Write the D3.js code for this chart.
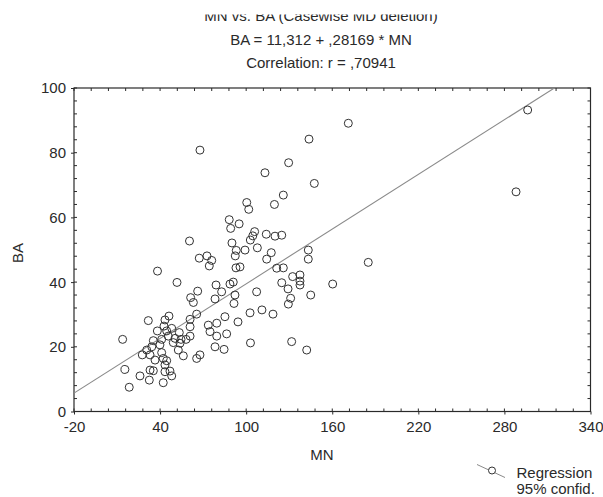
<!DOCTYPE html>
<html>
<head>
<meta charset="utf-8">
<script src="https://cdn.jsdelivr.net/npm/d3@7"></script>
<style>
  html, body { margin: 0; padding: 0; background: #fff; }
  svg { display: block; font-family: "Liberation Sans", Arial, sans-serif; }
</style>
</head>
<body>
<svg id="chart" width="603" height="497"></svg>
<script>
// ---- data ----
const MN = [67.8,171.2,143.8,296.2,288.1,185.1,129.6,113.1,147.5,125.9,119.7,100.4,101.8,88.2,89.2,95.1,60.5,105.9,104.6,102.9,114.0,120.1,124.8,90.1,93.1,99.2,107.8,117.5,114.3,92.4,67.3,72.7,76.0,74.3,92.9,95.7,121.3,125.9,143.3,143.3,38.2,51.8,79.0,82.9,88.7,91.0,66.2,61.3,63.2,78.3,92.2,107.3,124.8,129.2,91.5,132.4,137.5,137.5,137.5,160.3,145.0,131.0,129.4,131.7,142.2,103.0,118.7,111.0,102.7,94.3,
  31.8,46.2,43.4,65.5,60.9,60.9,73.6,79.5,85.2,74.8,79.5,86.4,78.3,84.6,13.9,42.7,38.1,44.6,48.1,53.4,45.7,50.4,41.1,35.3,54.6,60.9,58.1,53.9,49.2,39.9,34.2,30.7,27.6,33.0,41.1,52.7,56.2,67.8,65.5,36.5,42.2,44.6,43.4,15.5,33.0,35.3,43.4,46.9,48.1,26.0,32.5,42.2,18.5];
const BA = [80.8,89.1,84.2,93.2,67.9,46.1,76.9,73.8,70.5,66.9,64.0,64.6,62.5,59.3,56.6,58.0,52.7,55.6,54.3,53.0,54.8,54.2,54.5,52.1,49.8,49.9,50.6,49.1,47.1,48.1,47.4,48.1,46.7,45.0,44.4,44.7,44.3,44.4,49.9,47.1,43.4,39.9,39.1,37.0,39.4,40.0,37.2,35.2,33.7,34.8,36.0,37.0,39.8,37.9,33.4,41.7,42.2,40.3,39.1,39.4,36.0,35.0,33.2,21.6,19.0,21.2,30.1,31.4,30.5,27.7,
  28.1,29.5,28.3,30.1,28.5,26.2,26.7,27.3,29.3,24.7,23.3,24.0,20.0,19.2,22.3,26.4,24.9,24.9,25.7,24.4,23.3,22.6,22.3,21.9,22.3,23.3,22.3,21.1,21.3,20.6,20.0,19.0,17.5,17.5,18.2,19.0,17.2,17.5,16.4,15.9,16.4,15.7,14.4,13.0,12.8,12.6,12.3,12.5,11.0,11.0,9.7,8.9,7.5];
const intercept = 11.312, slope = 0.28169;
const xTicks = [-20, 40, 100, 160, 220, 280, 340];
const yTicks = [0, 20, 40, 60, 80, 100];
const titleLines = ["MN vs. BA (Casewise MD deletion)", "BA = 11,312 + ,28169 * MN", "Correlation: r = ,70941"];
const legendLabels = ["Regression", "95% confid."];

// ---- drawing ----
const svg = d3.select("#chart");
const x = d3.scaleLinear().domain([-20, 340]).range([74, 590.5]);
const y = d3.scaleLinear().domain([0, 100]).range([411.5, 88]);
const ink = "#2a2a2a";

// titles
const tcx = 321;
svg.append("text").attr("x", tcx).attr("y", 20.5).attr("text-anchor", "middle")
  .attr("font-size", 15).attr("fill", ink).text(titleLines[0]);
svg.append("rect").attr("x", 0).attr("y", 0).attr("width", 603).attr("height", 14.5).attr("fill", "#fff");
svg.append("text").attr("x", tcx).attr("y", 44.5).attr("text-anchor", "middle")
  .attr("font-size", 15).attr("fill", ink).text(titleLines[1]);
svg.append("text").attr("x", tcx).attr("y", 67.5).attr("text-anchor", "middle")
  .attr("font-size", 15).attr("fill", ink).text(titleLines[2]);

// clip
svg.append("clipPath").attr("id", "plotclip").append("rect")
  .attr("x", 74).attr("y", 88).attr("width", 590.5 - 74).attr("height", 411.5 - 88);

// minor ticks (inside)
const minorX = d3.range(-20, 340.01, 12);
const minorY = d3.range(0, 100.01, 4);
const tg = svg.append("g").attr("stroke", ink).attr("stroke-width", 1);
minorX.forEach(v => {
  tg.append("line").attr("x1", x(v)).attr("x2", x(v)).attr("y1", y(0)).attr("y2", y(0) - 3);
  tg.append("line").attr("x1", x(v)).attr("x2", x(v)).attr("y1", y(100)).attr("y2", y(100) + 3);
});
minorY.forEach(v => {
  tg.append("line").attr("x1", x(-20)).attr("x2", x(-20) + 3).attr("y1", y(v)).attr("y2", y(v));
  tg.append("line").attr("x1", x(340)).attr("x2", x(340) - 3).attr("y1", y(v)).attr("y2", y(v));
});

// axes via d3 (major ticks outside)
const fmt = d => String(d);
const xAxis = d3.axisBottom(x).tickValues(xTicks).tickSize(3).tickPadding(6).tickFormat(fmt);
const yAxis = d3.axisLeft(y).tickValues(yTicks).tickSize(3).tickPadding(5).tickFormat(fmt);
const gx = svg.append("g").attr("transform", `translate(0,${y(0)})`).call(xAxis);
const gy = svg.append("g").attr("transform", `translate(${x(-20)},0)`).call(yAxis);
[gx, gy].forEach(g => {
  g.select(".domain").remove();
  g.selectAll("line").attr("stroke", ink);
  g.selectAll("text").attr("font-size", 15).attr("fill", ink)
    .attr("font-family", "Liberation Sans, Arial, sans-serif");
});
gx.selectAll("text").attr("dy", "0.75em");
gy.selectAll("text").attr("dy", "0.33em");

// frame
svg.append("rect").attr("x", x(-20)).attr("y", y(100))
  .attr("width", x(340) - x(-20)).attr("height", y(0) - y(100))
  .attr("fill", "none").attr("stroke", ink).attr("stroke-width", 1.2);

// regression line
svg.append("line").attr("clip-path", "url(#plotclip)")
  .attr("x1", x(-20)).attr("y1", y(intercept + slope * -20))
  .attr("x2", x(340)).attr("y2", y(intercept + slope * 340))
  .attr("stroke", "#8a8a8a").attr("stroke-width", 1.1);

// points
svg.append("g").selectAll("circle").data(MN.map((m, i) => [m, BA[i]])).join("circle")
  .attr("cx", d => x(d[0])).attr("cy", d => y(d[1])).attr("r", 4)
  .attr("fill", "none").attr("stroke", "#333").attr("stroke-width", 1);

// axis titles
svg.append("text").attr("x", 322).attr("y", 460).attr("text-anchor", "middle")
  .attr("font-size", 15).attr("fill", ink).text("MN");
svg.append("text").attr("transform", "translate(23,253) rotate(-90)").attr("text-anchor", "middle")
  .attr("font-size", 15).attr("fill", ink).text("BA");

// legend
svg.append("line").attr("x1", 477).attr("y1", 464.5).attr("x2", 505).attr("y2", 477.5)
  .attr("stroke", "#8a8a8a").attr("stroke-width", 1);
svg.append("circle").attr("cx", 492).attr("cy", 470.5).attr("r", 3.5)
  .attr("fill", "#fff").attr("stroke", "#333").attr("stroke-width", 1);
svg.append("text").attr("x", 516.5).attr("y", 478).attr("font-size", 15).attr("fill", ink).text(legendLabels[0]);
svg.append("text").attr("x", 516.5).attr("y", 493.5).attr("font-size", 15).attr("fill", ink).text(legendLabels[1]);
</script>
</body>
</html>
